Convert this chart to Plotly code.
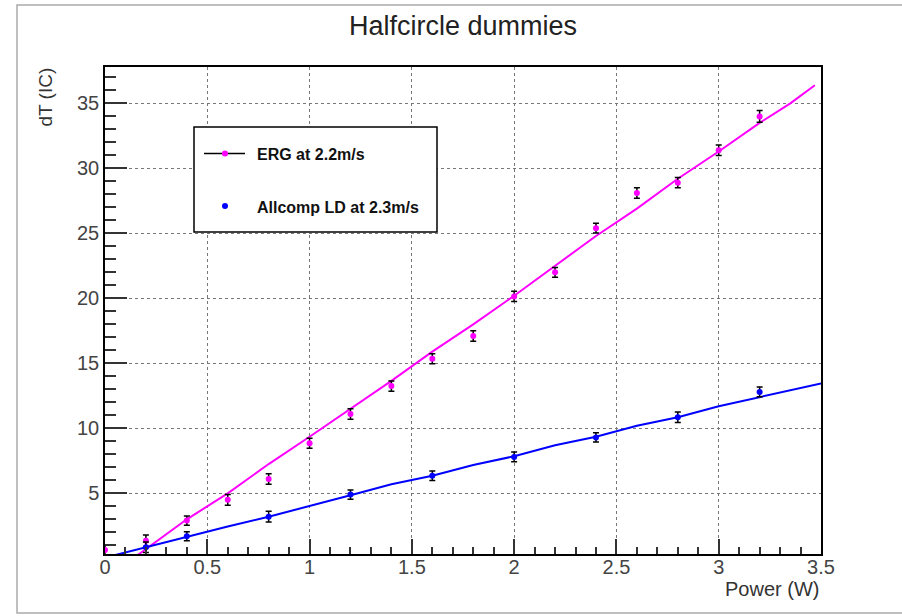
import plotly.graph_objects as go

# ---- data ----
erg_power = [0.0, 0.2, 0.4, 0.6, 0.8, 1.0, 1.2, 1.4, 1.6, 1.8, 2.0, 2.2, 2.4, 2.6, 2.8, 3.0, 3.2]
erg_dT = [0.64, 1.35, 2.9, 4.5, 6.1, 8.85, 11.1, 13.25, 15.35, 17.1, 20.15, 22.0, 25.4, 28.1, 28.9, 31.4, 34.0]
erg_err = [0.4, 0.45, 0.36, 0.41, 0.4, 0.38, 0.4, 0.4, 0.38, 0.4, 0.4, 0.38, 0.38, 0.4, 0.4, 0.4, 0.45]

ld_power = [0.2, 0.4, 0.8, 1.2, 1.6, 2.0, 2.4, 2.8, 3.2]
ld_dT = [0.85, 1.7, 3.2, 4.9, 6.35, 7.8, 9.3, 10.85, 12.8]
ld_err = [0.4, 0.35, 0.41, 0.36, 0.36, 0.38, 0.36, 0.4, 0.38]

erg_fit_x = [0.16, 0.4, 0.6, 0.8, 1.0, 1.2, 1.4, 1.6, 1.8, 2.0, 2.2, 2.4, 2.6, 2.8, 3.0, 3.2, 3.35, 3.47]
erg_fit_y = [0.25, 3.0, 5.0, 7.25, 9.35, 11.5, 13.65, 15.9, 18.0, 20.2, 22.5, 24.8, 26.9, 29.2, 31.3, 33.5, 35.0, 36.4]

ld_fit_x = [0.05, 0.2, 0.4, 0.6, 0.8, 1.0, 1.2, 1.4, 1.6, 1.8, 2.0, 2.2, 2.4, 2.6, 2.8, 3.0, 3.2, 3.5]
ld_fit_y = [0.25, 0.85, 1.7, 2.45, 3.2, 4.0, 4.85, 5.7, 6.35, 7.18, 7.85, 8.7, 9.35, 10.2, 10.85, 11.7, 12.4, 13.45]

title_text = "Halfcircle dummies"
x_title = "Power (W)"
y_title = "dT (IC)"
legend_labels = ["ERG at 2.2m/s", "Allcomp LD at 2.3m/s"]

FONT = "Liberation Sans, Arial, Helvetica, sans-serif"
MAGENTA = "#ff00ff"
BLUE = "#0000ff"

fig = go.Figure()

fig.add_trace(go.Scatter(x=erg_fit_x, y=erg_fit_y, mode="lines",
                         line=dict(color=MAGENTA, width=2), showlegend=False, hoverinfo="skip"))
fig.add_trace(go.Scatter(x=ld_fit_x, y=ld_fit_y, mode="lines",
                         line=dict(color=BLUE, width=2), showlegend=False, hoverinfo="skip"))

fig.add_trace(go.Scatter(x=erg_power, y=erg_dT, mode="markers", name=legend_labels[0],
                         marker=dict(color=MAGENTA, size=6),
                         error_y=dict(type="data", array=erg_err, color="black", thickness=1.5, width=3),
                         showlegend=False))
fig.add_trace(go.Scatter(x=ld_power, y=ld_dT, mode="markers", name=legend_labels[1],
                         marker=dict(color=BLUE, size=6),
                         error_y=dict(type="data", array=ld_err, color="black", thickness=1.5, width=3),
                         showlegend=False))

# plot area in pixels: x 105..821, y 67..554
L, R, T, B = 105, 821, 67, 554
W, H = 902, 616


def px(xp):
    return (xp - L) / (R - L)


def py(yp):
    return (B - yp) / (B - T)


fig.update_layout(
    width=W, height=H,
    margin=dict(l=L, r=W - R, t=T, b=H - B),
    paper_bgcolor="white", plot_bgcolor="white",
    font=dict(family=FONT, color="#333"),
    showlegend=False,
)

fig.update_xaxes(
    range=[0, 3.5], tick0=0, dtick=0.5,
    ticks="inside", ticklen=15, tickwidth=1.5, tickcolor="#333",
    minor=dict(ticks="inside", dtick=0.1, ticklen=7, tickwidth=1.5, tickcolor="#333"),
    showline=True, linecolor="black", linewidth=1.5, mirror=True,
    showgrid=True, gridcolor="#777", griddash="dot", gridwidth=1,
    zeroline=False, ticklabelstandoff=-6,
    tickfont=dict(size=20, color="#444", family=FONT),
)
fig.update_yaxes(
    range=[0.33, 37.8], tick0=0, dtick=5,
    ticks="inside", ticklen=22, tickwidth=1.5, tickcolor="#333",
    minor=dict(ticks="inside", dtick=1, ticklen=11, tickwidth=1.5, tickcolor="#333"),
    showline=True, linecolor="black", linewidth=1.5, mirror=True,
    showgrid=True, gridcolor="#777", griddash="dot", gridwidth=1,
    zeroline=False,
    tickfont=dict(size=20, color="#444", family=FONT),
)

annotations = [
    dict(text=title_text, xref="paper", yref="paper", x=px(463), y=py(26),
         xanchor="center", yanchor="middle", showarrow=False,
         font=dict(size=27, color="#222", family=FONT)),
    dict(text=x_title, xref="paper", yref="paper", x=px(821), y=py(589),
         xanchor="right", yanchor="middle", showarrow=False,
         font=dict(size=20, color="#333", family=FONT)),
    dict(text=y_title, xref="paper", yref="paper", x=px(45), y=py(66),
         xanchor="center", yanchor="top", textangle=-90, showarrow=False,
         font=dict(size=19, color="#333", family=FONT)),
    dict(text="<b>" + legend_labels[0] + "</b>", xref="paper", yref="paper", x=px(255), y=py(154),
         xanchor="left", yanchor="middle", showarrow=False,
         font=dict(size=16, color="#111", family=FONT)),
    dict(text="<b>" + legend_labels[1] + "</b>", xref="paper", yref="paper", x=px(255), y=py(207),
         xanchor="left", yanchor="middle", showarrow=False,
         font=dict(size=16, color="#111", family=FONT)),
]

shapes = [
    # outer canvas frame
    dict(type="rect", xref="paper", yref="paper", x0=px(17), x1=px(910), y0=py(613), y1=py(5),
         line=dict(color="#aaa", width=1.5), fillcolor="rgba(0,0,0,0)", layer="below"),
    # legend box
    dict(type="rect", xref="paper", yref="paper", x0=px(194), x1=px(437), y0=py(232), y1=py(127),
         line=dict(color="black", width=1.5), fillcolor="white"),
    # legend line sample
    dict(type="line", xref="paper", yref="paper", x0=px(204), x1=px(245), y0=py(153.5), y1=py(153.5),
         line=dict(color="black", width=1.5)),
    dict(type="circle", xref="paper", yref="paper", xsizemode="pixel", ysizemode="pixel",
         xanchor=px(225), yanchor=py(153.5), x0=-3, x1=3, y0=-3, y1=3,
         line=dict(color=MAGENTA, width=0), fillcolor=MAGENTA),
    dict(type="circle", xref="paper", yref="paper", xsizemode="pixel", ysizemode="pixel",
         xanchor=px(225), yanchor=py(206), x0=-3, x1=3, y0=-3, y1=3,
         line=dict(color=BLUE, width=0), fillcolor=BLUE),
]

fig.update_layout(annotations=annotations, shapes=shapes)

fig.write_html("out.html", config={"displayModeBar": False},
               post_script="document.body.style.margin='0';document.body.style.overflow='hidden';")
